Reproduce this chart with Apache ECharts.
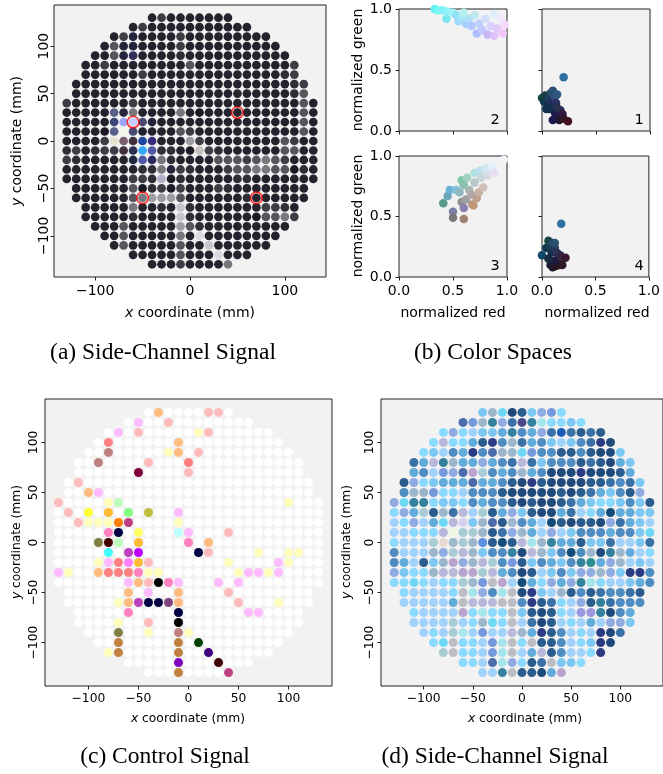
<!DOCTYPE html>
<html>
<head>
<meta charset="utf-8">
<script src="https://cdn.jsdelivr.net/npm/echarts@6/dist/echarts.min.js"></script>
<style>
  html, body { margin: 0; padding: 0; background: #fff; }
  #chart { width: 663px; height: 774px; }
</style>
</head>
<body>
<div id="chart"></div>
<script>
// wafer rows, top to bottom (mm); each row string holds one colour code per die, left to right
const rowY = [130, 120, 110, 100, 90, 80, 70, 60, 50, 40, 30, 20, 10, 0,
  -10, -20, -30, -40, -50, -60, -70, -80, -90, -100, -110, -120, -130];
const rowCount = [9, 13, 17, 19, 21, 23, 23, 25, 25, 27, 27, 27, 27, 27,
  27, 27, 27, 27, 25, 25, 23, 23, 21, 19, 17, 13, 9];

// (a) side-channel signal
const paletteA = {
  '0': '#1b1a24', '1': '#24232d', '2': '#2f2e37', '3': '#3e3d45', '4': '#56555b',
  '5': '#78777b', '6': '#9e9ea2', '7': '#c6c6ca', '8': '#d9d9e3',
  A: '#c8ccff', B: '#9ea4f8', C: '#5a6088', D: '#3c4777', E: '#4a4a72', F: '#f4f8e8',
  G: '#e6e2d0', H: '#7a6070', I: '#40303e', J: '#2046a2', K: '#3a2c7c', L: '#33aaff',
  M: '#5058a8', N: '#1f2a40', O: '#2a2a60', P: '#b0b0c8', Q: '#c8c0c0', R: '#2c3050',
  S: '#25253d', T: '#33305a', U: '#1e2530'
};
const sideChannelA = [
  '131111111',
  '1311111111111',
  '13S11113111111111',
  '14SS111131111111111',
  '114ST1111211111111111',
  '11311111111411111111113',
  '11111131111111111111123',
  '1111111111111111111111123',
  '1111111111111111111111124',
  '311111131111111111111111141',
  '11111CS51111510111111111141',
  '11111DBAES11111111111111141',
  '11110CFEU111431111111111141',
  '11113GHIJK11163111111114311',
  '231233IRLM2210Q321111114411',
  '3211111NMO52111144434543111',
  '11111111225S321113445544021',
  '1111111332P0211111221111111',
  '1111114023031113211111111',
  '1111114566641111112111111',
  '11111511217211111113321',
  '11111211117211111104453',
  '111411111642111111111',
  '1141111151811111111',
  '14111114117111111',
  '1111141118111',
  '111311115'
];
const markedDies = [[-60, 20], [50, 30], [-50, -60], [70, -60]];

// (b) colour spaces: [normalized red, normalized green, colour]
const space2 = [
  [0.33, 1.0, '#60f0f0'], [0.36, 0.99, '#70f8f0'], [0.40, 0.99, '#80f0f8'], [0.44, 0.92, '#78e8f0'],
  [0.45, 0.98, '#90f0f8'], [0.50, 0.97, '#a0f0f8'], [0.53, 0.95, '#90e0f8'], [0.55, 0.90, '#a0d8ff'],
  [0.58, 0.93, '#a8e8f8'], [0.60, 0.97, '#b8f0f0'], [0.62, 0.88, '#a8d0ff'], [0.65, 0.92, '#b0e0f8'],
  [0.67, 0.86, '#b0c8ff'], [0.70, 0.95, '#c0e8f0'], [0.72, 0.80, '#b0c0ff'], [0.74, 0.88, '#c0d0ff'],
  [0.77, 0.83, '#c0c8ff'], [0.80, 0.92, '#d0e0f8'], [0.82, 0.79, '#c8b8f8'], [0.85, 0.86, '#d8d0ff'],
  [0.88, 0.96, '#e0f0f8'], [0.88, 0.78, '#e0c0f8'], [0.91, 0.84, '#e0c8f8'], [0.94, 0.92, '#eee8f8'],
  [0.96, 0.80, '#f0c8f8'], [0.98, 0.87, '#f4d8f8']
];
const space1 = [
  [0.00, 0.27, '#104840'], [0.02, 0.24, '#103850'], [0.03, 0.29, '#183c40'], [0.05, 0.22, '#1a3050'],
  [0.06, 0.27, '#1a4060'], [0.08, 0.31, '#284a68'], [0.10, 0.33, '#2a5078'], [0.09, 0.25, '#203058'],
  [0.11, 0.20, '#202a58'], [0.12, 0.28, '#305078'], [0.13, 0.23, '#283060'], [0.14, 0.30, '#305880'],
  [0.12, 0.15, '#1a1a50'], [0.10, 0.09, '#181850'], [0.15, 0.12, '#2a1a48'], [0.17, 0.17, '#282858'],
  [0.19, 0.14, '#301a40'], [0.16, 0.09, '#201830'], [0.20, 0.10, '#301828'], [0.24, 0.08, '#401020'],
  [0.07, 0.18, '#183050'], [0.04, 0.18, '#103050'], [0.14, 0.19, '#2a3050'], [0.20, 0.44, '#3070a0']
];
const space3 = [
  [0.41, 0.61, '#5a9a88'], [0.45, 0.67, '#6aa8b8'], [0.47, 0.72, '#6ab0d8'], [0.50, 0.54, '#7a80a8'],
  [0.50, 0.49, '#7a7878'], [0.53, 0.72, '#80c0d8'], [0.56, 0.70, '#90b8c0'], [0.58, 0.62, '#909090'],
  [0.60, 0.48, '#a08070'], [0.60, 0.57, '#8a80b0'], [0.58, 0.80, '#80c8a8'], [0.60, 0.76, '#88c0b0'],
  [0.62, 0.64, '#a0a0a0'], [0.63, 0.82, '#a0d0c0'], [0.65, 0.72, '#a8b8b0'], [0.67, 0.68, '#b0a8a8'],
  [0.68, 0.60, '#b09080'], [0.69, 0.59, '#c09878'], [0.70, 0.86, '#b0e0e0'], [0.70, 0.78, '#b8c8c8'],
  [0.72, 0.65, '#c0a090'], [0.74, 0.70, '#c8b0a0'], [0.75, 0.88, '#c0e0f0'], [0.76, 0.82, '#c8d8d8'],
  [0.78, 0.74, '#d0c0b8'], [0.80, 0.90, '#d0e8f0'], [0.82, 0.84, '#d8d8e0'], [0.84, 0.87, '#d8e0f0'],
  [0.86, 0.91, '#e0f0f8'], [0.88, 0.86, '#e8e0f0'], [0.97, 0.97, '#f4f4ff']
];
const space4 = [
  [0.00, 0.18, '#104868'], [0.04, 0.24, '#103848'], [0.06, 0.30, '#184840'], [0.07, 0.26, '#1a4050'],
  [0.09, 0.20, '#183050'], [0.10, 0.28, '#2a4a68'], [0.12, 0.24, '#283858'], [0.12, 0.28, '#2a5070'],
  [0.14, 0.20, '#303058'], [0.15, 0.15, '#282050'], [0.17, 0.18, '#302848'], [0.19, 0.16, '#382838'],
  [0.22, 0.16, '#381830'], [0.08, 0.10, '#181838'], [0.10, 0.08, '#201828'], [0.13, 0.09, '#281820'],
  [0.16, 0.10, '#281820'], [0.19, 0.10, '#301a28'], [0.11, 0.13, '#201a40'], [0.06, 0.15, '#182a40'],
  [0.18, 0.44, '#3070a0']
];

// (c) control signal
const paletteC = {
  '.': '#ffffff', s: '#ffbbbb', o: '#ffbb80', m: '#ffbbff', y: '#ffffbb', r: '#ff8080',
  b: '#bf8080', M: '#800040', g: '#bbffbb', Y: '#ffff33', G: '#ffbb33', e: '#80ff80',
  l: '#bfbf40', O: '#ff8000', d: '#bf4080', n: '#000040', k: '#ff80bf', c: '#bbffff',
  L: '#808040', w: '#400000', C: '#40ffff', p: '#bf40bf', v: '#bf00ff', K: '#000000',
  P: '#804080', h: '#ff80ff', z: '#bf8040', D: '#004000', i: '#400080', V: '#8000bf',
  u: '#ffff66'
};
const controlC = [
  '.o....ss.',
  '.m..s........',
  '.m.s.....ys......',
  '.r......o..........',
  '..b.....yo.s.........',
  '..b....s...r...........',
  '......M....s...........',
  '.s.......................',
  '..om.....................',
  's....yg................y...',
  '.s.Y.G.e.l..m..............',
  '..syyyOd....y..............',
  '.....kn.u...cm...s.........',
  '....Lwg.G....k.o...........',
  '.....C.pv.....ns....y..yy..',
  '....ymrhGs.......y....my...',
  'my..orrrkyy.......ymmym....',
  '.......mosKkm...m.m........',
  '......o.m..o....s........',
  '.....yopnnPo.....s...y...',
  '.....k....n......mm....',
  '....y..s..K............',
  '...L..y..by..........',
  '..z.....z.D........',
  'yz.....z..i......',
  '.....V...w...',
  '...z....d'
];

// (d) side-channel signal
const paletteD = {
  a: '#8adaff', b: '#a0d2fb', c: '#7cc8f2', d: '#62acdc', e: '#4e8cc2', f: '#3a72a8',
  g: '#2a5c8e', h: '#204a7c', i: '#b8b8da', j: '#a8ccd4', k: '#9cb6cc', l: '#6ed8f4',
  m: '#b8a4cc', n: '#2c3c84', o: '#4e6cac', p: '#34829e', q: '#a4e6ec', r: '#124c7a',
  s: '#bcbec4', t: '#f0f8e4', u: '#e8dcd2', v: '#90aae2', w: '#7698dc', x: '#d8d0f0',
  y: '#9a98e0', B: '#1c5cb4', N: '#4a4a8c', W: '#5a90e0', T: '#2a9090'
};
const sideChannelD = [
  'cklhgcvwa',
  'owkpvfNpqaaca',
  'avabccdpedvfBfgfg',
  'aiaadgnekfdecbcefnh',
  'acbedneokklweeggeghhc',
  'fdipkddvdefifceeegfghdc',
  'debwvomjedekdehhhnhhhgd',
  'gvacdddoddeghnghhhhggfefc',
  'ekkwaabeeeghhhhhghgfdcegv',
  'vlppaccaedeeghghhgfdcaacecg',
  'avdjgkfibjgdvcghhdfbadrddcc',
  'bavbdlixckogkedbrghgghvfdcb',
  'bbaaaitjjkgfvkdbvbceeedeecl',
  'abbbjukjkWgrgiqkpddgccfbbcf',
  'ebbbkvjikceephikcerekhpkdba',
  'edbgckmvkijewgcedcepTdvkbcb',
  'vcaakiimmjidehgbcecvvkvcnne',
  'aalabaajkwsmbrdavdvpqabbcde',
  'abbbbasqveqshncbkgegfeefg',
  'bbbbbdsiiissengfabvgpfeee',
  'abbbbmaqaascghgabyyphed',
  'bbbbjbaklasbfhgbabdbvvc',
  'babjqbwbbikdngebabnhf',
  'alsaabwqsasggebacnh',
  'jsaabwqsbdigebban',
  'aaboqvagfscca',
  'bbpsgghdm'
];

const waferTicks = [-100, -50, 0, 50, 100];
const waferTicksA = [-100, 0, 100];

function waferPoints(rows, palette) {
  const pts = [];
  rows.forEach((row, k) => {
    if (row.length !== rowCount[k]) console.warn('row', rowY[k], row.length, rowCount[k]);
    const n = row.length;
    for (let i = 0; i < n; i++) {
      pts.push({ value: [(i - (n - 1) / 2) * 10, rowY[k]], itemStyle: { color: palette[row[i]] } });
    }
  });
  return pts;
}

function spacePoints(list) {
  return list.map((p) => ({ value: [p[0], p[1]], itemStyle: { color: p[2] } }));
}

const FONT = 'DejaVu Sans';
const INK = '#222';
const minus = (v) => String(v).replace('-', '\u2212');

function waferX(gridIndex, ticks, fontSize) {
  return {
    gridIndex, type: 'value', min: -143.4, max: 143.4,
    axisLine: { show: false, onZero: false },
    axisTick: { show: true, customValues: ticks, length: 3.5, lineStyle: { color: INK } },
    axisLabel: { customValues: ticks, formatter: minus, fontSize, fontFamily: FONT, color: '#000', margin: 7 },
    splitLine: { show: false }
  };
}
function waferY(gridIndex, fontSize, margin) {
  return {
    gridIndex, type: 'value', min: -143.4, max: 143.4,
    axisLine: { show: false, onZero: false },
    axisTick: { show: true, customValues: waferTicks, length: 3.5, lineStyle: { color: INK } },
    axisLabel: { customValues: waferTicks, formatter: minus, rotate: 90, fontSize, fontFamily: FONT, color: '#000', margin },
    splitLine: { show: false }
  };
}
function spaceAxis(gridIndex, showLabel) {
  return {
    gridIndex, type: 'value', min: 0, max: 1, interval: 0.5,
    axisLine: { show: false, onZero: false },
    axisTick: { show: true, length: 3.5, lineStyle: { color: INK } },
    axisLabel: { show: showLabel, formatter: (v) => v.toFixed(1), fontSize: 14, fontFamily: FONT, color: '#000', margin: 7 },
    splitLine: { show: false }
  };
}

const gridBase = { show: true, backgroundColor: '#f2f2f2', borderColor: INK, borderWidth: 1 };

function label(text, x, y, size, opts) {
  const o = opts || {};
  return {
    type: 'text', x, y, rotation: o.rotate ? Math.PI / 2 : 0, silent: true,
    style: {
      text, fontSize: size, fontFamily: o.family || FONT, fill: '#000',
      align: 'center', verticalAlign: 'middle',
      rich: { i: { fontStyle: 'italic', fontFamily: FONT, fontSize: size, fill: '#000' } }
    }
  };
}

const chart = echarts.init(document.getElementById('chart'), null, { renderer: 'canvas' });

const waferSeries = (gridIdx, rows, palette, size) => ({
  type: 'scatter', xAxisIndex: gridIdx, yAxisIndex: gridIdx, symbolSize: size,
  data: waferPoints(rows, palette), silent: true, itemStyle: { opacity: 1 }
});
const spaceSeries = (gridIdx, list) => ({
  type: 'scatter', xAxisIndex: gridIdx, yAxisIndex: gridIdx, symbolSize: 8.5, clip: true,
  data: spacePoints(list), silent: true, itemStyle: { opacity: 1 }
});

chart.setOption({
  animation: false,
  backgroundColor: '#fff',
  grid: [
    { ...gridBase, left: 54, top: 5, width: 272, height: 272 },
    { ...gridBase, left: 399, top: 9, width: 108, height: 122 },
    { ...gridBase, left: 542, top: 9, width: 108, height: 122 },
    { ...gridBase, left: 399, top: 156, width: 108, height: 121 },
    { ...gridBase, left: 542, top: 156, width: 108, height: 121 },
    { ...gridBase, left: 45, top: 399, width: 287, height: 287 },
    { ...gridBase, left: 381, top: 399, width: 287, height: 287 }
  ],
  xAxis: [
    waferX(0, waferTicksA, 14),
    spaceAxis(1, false), spaceAxis(2, false),
    spaceAxis(3, true), spaceAxis(4, true),
    waferX(5, waferTicks, 12.3),
    waferX(6, waferTicks, 12.3)
  ],
  yAxis: [
    waferY(0, 14, 3),
    spaceAxis(1, true), spaceAxis(2, false),
    spaceAxis(3, true), spaceAxis(4, false),
    waferY(5, 12.3, 5),
    waferY(6, 12.3, 5)
  ],
  series: [
    waferSeries(0, sideChannelA, paletteA, 8.7),
    {
      type: 'scatter', xAxisIndex: 0, yAxisIndex: 0, symbolSize: 11.5, z: 5, silent: true,
      data: markedDies,
      itemStyle: { color: 'rgba(0,0,0,0)', borderColor: '#ff0000', borderWidth: 1.6 }
    },
    spaceSeries(1, space2),
    spaceSeries(2, space1),
    spaceSeries(3, space3),
    spaceSeries(4, space4),
    waferSeries(5, controlC, paletteC, 9),
    waferSeries(6, sideChannelD, paletteD, 9)
  ],
  graphic: [
    label('{i|x} coordinate (mm)', 190, 313, 14),
    label('{i|y} coordinate (mm)', 17, 141, 14, { rotate: true }),
    label('normalized green', 358, 70, 14, { rotate: true }),
    label('normalized green', 358, 216, 14, { rotate: true }),
    label('normalized red', 453, 313, 14),
    label('normalized red', 597, 313, 14),
    label('2', 495, 120, 14.5),
    label('1', 639, 120, 14.5),
    label('3', 495, 266, 14.5),
    label('4', 639, 266, 14.5),
    label('{i|x} coordinate (mm)', 188, 719, 12.3),
    label('{i|y} coordinate (mm)', 17, 542, 12.3, { rotate: true }),
    label('{i|x} coordinate (mm)', 525, 719, 12.3),
    label('{i|y} coordinate (mm)', 347, 542, 12.3, { rotate: true }),
    label('(a) Side-Channel Signal', 163, 353, 23.5, { family: 'Liberation Serif' }),
    label('(b) Color Spaces', 493, 353, 23.5, { family: 'Liberation Serif' }),
    label('(c) Control Signal', 165, 757, 23.5, { family: 'Liberation Serif' }),
    label('(d) Side-Channel Signal', 495, 757, 23.5, { family: 'Liberation Serif' })
  ]
});
</script>
</body>
</html>
